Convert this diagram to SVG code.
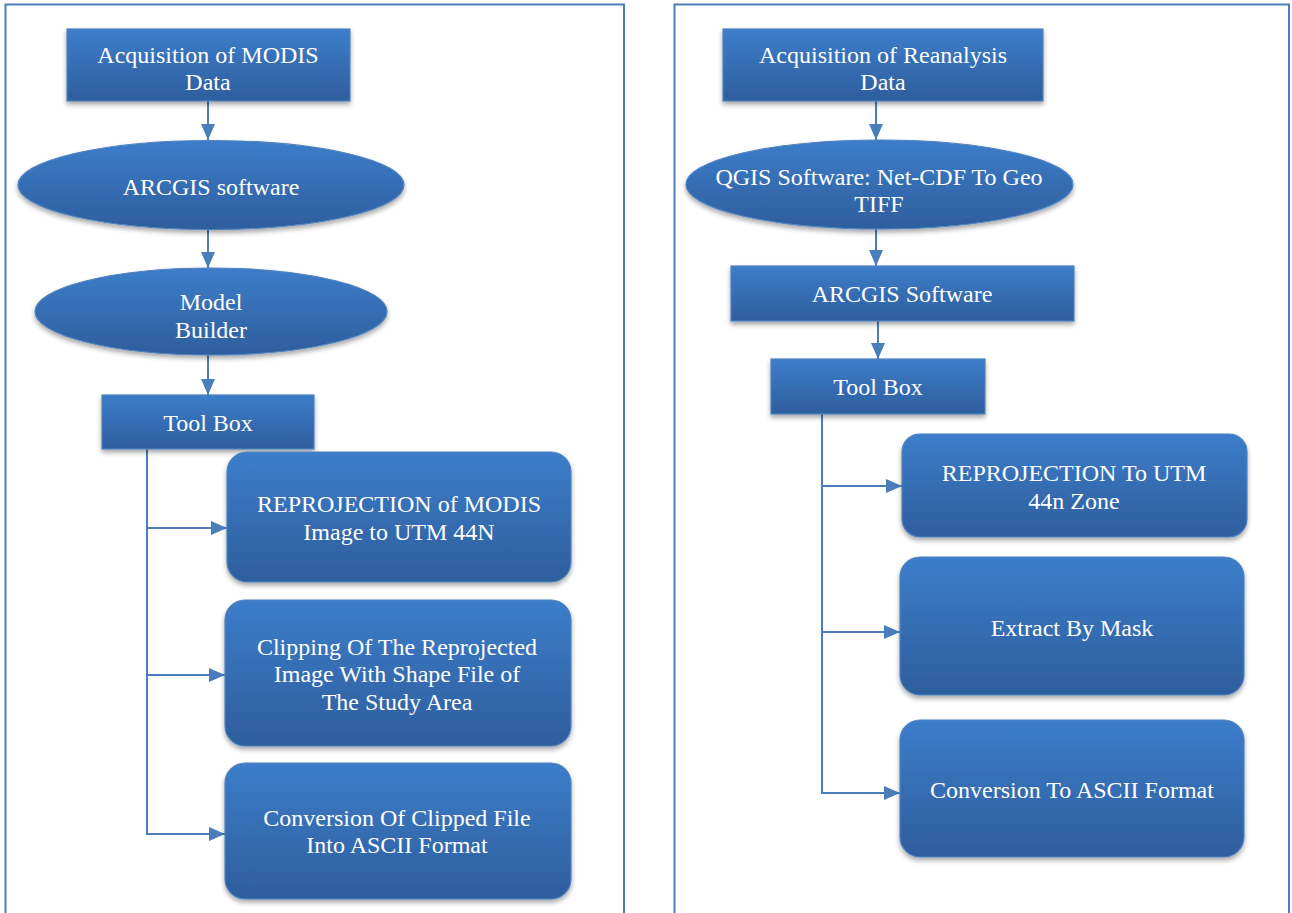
<svg xmlns="http://www.w3.org/2000/svg" width="1292" height="913" viewBox="0 0 1292 913">
<style>
.panel{fill:#ffffff;stroke:#4a7ebb;stroke-width:2}
.node{fill:url(#g);stroke:#4f82c0;stroke-width:1.2;filter:url(#sh)}
.lbl{font-family:"Liberation Serif","Times New Roman",serif;font-size:24px;fill:#ffffff;text-anchor:middle}
.con{fill:none;stroke:#4a7ebb;stroke-width:2}
</style>
<defs>
<linearGradient id="g" x1="0" y1="0" x2="0" y2="1">
<stop offset="0" stop-color="#3c7dca"/>
<stop offset="1" stop-color="#2e5e9d"/>
</linearGradient>
<filter id="sh" x="-10%" y="-10%" width="120%" height="130%">
<feGaussianBlur in="SourceAlpha" stdDeviation="2.5"/>
<feOffset dx="0" dy="3" result="b"/>
<feComponentTransfer><feFuncA type="linear" slope="0.35"/></feComponentTransfer>
<feMerge><feMergeNode/><feMergeNode in="SourceGraphic"/></feMerge>
</filter>
<marker id="ah" markerUnits="userSpaceOnUse" markerWidth="16" markerHeight="14" viewBox="0 0 16 14" refX="16" refY="7" orient="auto">
<path d="M0,0 L16,7 L0,14 z" fill="#4a7ebb"/>
</marker>
</defs>
<rect width="1292" height="913" fill="#ffffff"/>
<g id="panels">
<rect class="panel" x="5.5" y="4.5" width="618.5" height="920"/>
<rect class="panel" x="674.5" y="4.5" width="614.5" height="920"/>
</g>
<g id="connectors">
<line class="con" x1="208" y1="101" x2="208" y2="140" marker-end="url(#ah)"/>
<line class="con" x1="208" y1="229" x2="208" y2="268" marker-end="url(#ah)"/>
<line class="con" x1="208" y1="355" x2="208" y2="395" marker-end="url(#ah)"/>
<path class="con" d="M147,449 V528 H227" marker-end="url(#ah)"/>
<path class="con" d="M147,528 V675 H225" marker-end="url(#ah)"/>
<path class="con" d="M147,675 V834 H225" marker-end="url(#ah)"/>
<line class="con" x1="876" y1="101" x2="876" y2="140" marker-end="url(#ah)"/>
<line class="con" x1="876" y1="229" x2="876" y2="266" marker-end="url(#ah)"/>
<line class="con" x1="878" y1="321" x2="878" y2="359" marker-end="url(#ah)"/>
<path class="con" d="M822,414 V486 H902" marker-end="url(#ah)"/>
<path class="con" d="M822,486 V632 H900" marker-end="url(#ah)"/>
<path class="con" d="M822,632 V793 H900" marker-end="url(#ah)"/>
</g>
<g id="n-modis">
<rect class="node" x="67" y="29" width="283" height="72"/>
<text class="lbl" x="208" y="63">Acquisition of MODIS</text>
<text class="lbl" x="208" y="90">Data</text>
</g>
<g id="n-arcgis-l">
<ellipse class="node" cx="211" cy="185" rx="193" ry="44.5"/>
<text class="lbl" x="211" y="195">ARCGIS software</text>
</g>
<g id="n-model">
<ellipse class="node" cx="211" cy="311.5" rx="176" ry="43.5"/>
<text class="lbl" x="211" y="310">Model</text>
<text class="lbl" x="211" y="338">Builder</text>
</g>
<g id="n-toolbox-l">
<rect class="node" x="102" y="395" width="212" height="54"/>
<text class="lbl" x="208" y="431">Tool Box</text>
</g>
<g id="n-reproj-l">
<rect class="node" x="227" y="452" width="344" height="130" rx="20"/>
<text class="lbl" x="399" y="512">REPROJECTION of MODIS</text>
<text class="lbl" x="399" y="540">Image to UTM 44N</text>
</g>
<g id="n-clip">
<rect class="node" x="225" y="600" width="346" height="146" rx="20"/>
<text class="lbl" x="397" y="655">Clipping Of The Reprojected</text>
<text class="lbl" x="397" y="682">Image With Shape File of</text>
<text class="lbl" x="397" y="710">The Study Area</text>
</g>
<g id="n-conv-l">
<rect class="node" x="225" y="763" width="346" height="136" rx="20"/>
<text class="lbl" x="397" y="826">Conversion Of Clipped File</text>
<text class="lbl" x="397" y="853">Into ASCII Format</text>
</g>
<g id="n-reanalysis">
<rect class="node" x="723" y="29" width="320" height="72"/>
<text class="lbl" x="883" y="63">Acquisition of Reanalysis</text>
<text class="lbl" x="883" y="90">Data</text>
</g>
<g id="n-qgis">
<ellipse class="node" cx="879.5" cy="184.5" rx="193.5" ry="44.5"/>
<text class="lbl" x="879" y="185">QGIS Software: Net-CDF To Geo</text>
<text class="lbl" x="879" y="212">TIFF</text>
</g>
<g id="n-arcgis-r">
<rect class="node" x="731" y="266" width="343" height="55"/>
<text class="lbl" x="902" y="302">ARCGIS Software</text>
</g>
<g id="n-toolbox-r">
<rect class="node" x="771" y="359" width="214" height="55"/>
<text class="lbl" x="878" y="395">Tool Box</text>
</g>
<g id="n-reproj-r">
<rect class="node" x="902" y="434" width="345" height="103" rx="18"/>
<text class="lbl" x="1074" y="481">REPROJECTION To UTM</text>
<text class="lbl" x="1074" y="509">44n Zone</text>
</g>
<g id="n-mask">
<rect class="node" x="900" y="557" width="344" height="138" rx="20"/>
<text class="lbl" x="1072" y="636">Extract By Mask</text>
</g>
<g id="n-conv-r">
<rect class="node" x="900" y="720" width="344" height="137" rx="20"/>
<text class="lbl" x="1072" y="798">Conversion To ASCII Format</text>
</g>
</svg>
